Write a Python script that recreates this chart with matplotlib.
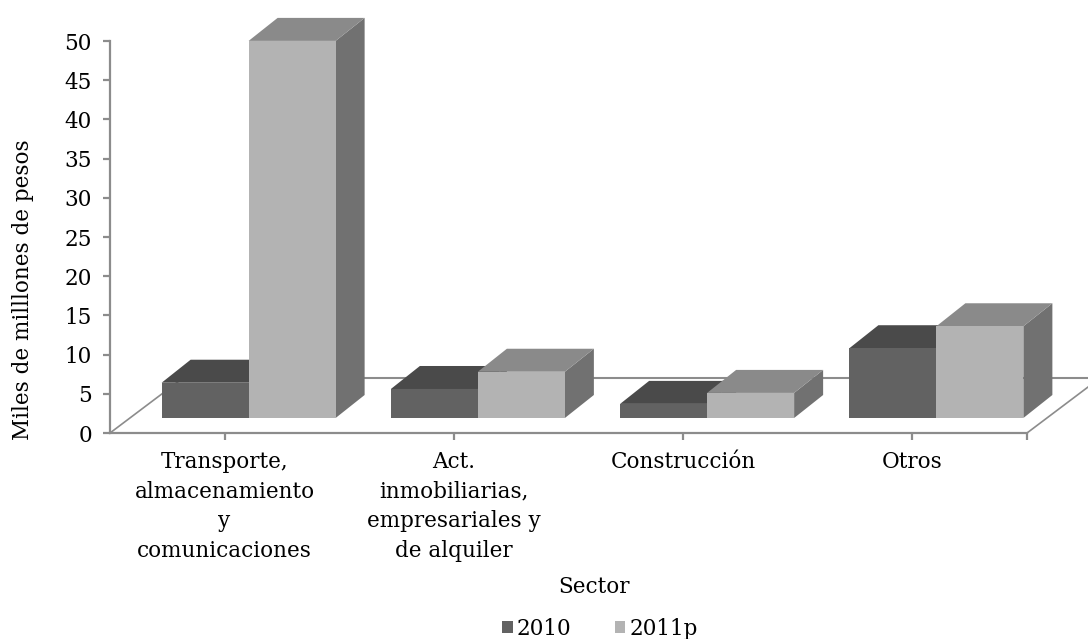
import numpy as np
import matplotlib
matplotlib.use("Agg")
import matplotlib.pyplot as plt
from matplotlib.patches import Polygon, Rectangle

plt.rcParams['font.family'] = ['DejaVu Serif']

sectores = ['Transporte,\nalmacenamiento\ny\ncomunicaciones',
            'Act.\ninmobiliarias,\nempresariales y\nde alquiler',
            'Construcción',
            'Otros']
anios = ['2010', '2011p']
v2010 = [4.5, 3.7, 1.8, 8.9]
v2011 = [48.1, 5.9, 3.2, 11.7]

# colores por cara: frente, arriba, lado
colores = {'2010': ('#626262', '#4a4a4a', '#555555'),
           '2011p': ('#b3b3b3', '#8a8a8a', '#717171')}
gris = '#8c8c8c'
fs = 15.5

W, H, DPI = 10.88, 6.39, 100
fig = plt.figure(figsize=(W, H), dpi=DPI)
# ejes en pixeles del original: x 110..1027, y 41..433
ax = fig.add_axes([110 / 1088, (639 - 433) / 639, 917 / 1088, 392 / 639])
ax.set_xlim(-0.5, 3.5)
ax.set_ylim(0, 50)

# conversion pixel -> datos (escala lineal)
px_x = 917 / 4.0
px_y = 392 / 50.0

# desplazamientos "3D" en pixeles
fx, fy = 24 / px_x, 15 / px_y      # cara frontal respecto al frente del piso
dx, dy = 29 / px_x, 23 / px_y      # profundidad de cada barra
pdx, pdy = 73 / px_x, 55 / px_y    # profundidad del piso
ancho = 87 / px_x

# piso
ax.plot([-0.5, -0.5 + pdx], [0, pdy], color=gris, lw=1.2, clip_on=False, zorder=1)
ax.plot([3.5, 3.5 + pdx], [0, pdy], color=gris, lw=1.2, clip_on=False, zorder=1)
ax.plot([-0.5 + pdx, 3.5 + pdx], [pdy, pdy], color=gris, lw=1.5, clip_on=False, zorder=1)


def caja(x0, h, cols, z):
    x0 = x0 + fx
    x1 = x0 + ancho
    b = fy
    t = fy + h
    frente, arriba, lado = cols
    ax.add_patch(Polygon([(x1, b), (x1 + dx, b + dy), (x1 + dx, t + dy), (x1, t)],
                         closed=True, fc=lado, ec='none', clip_on=False, zorder=z))
    ax.add_patch(Polygon([(x0, t), (x1, t), (x1 + dx, t + dy), (x0 + dx, t + dy)],
                         closed=True, fc=arriba, ec='none', clip_on=False, zorder=z))
    ax.add_patch(Rectangle((x0, b), ancho, h, fc=frente, ec='none',
                           clip_on=False, zorder=z))


x = np.arange(len(sectores))
z = 2
for i in range(len(sectores)):
    caja(x[i] - ancho, v2010[i], colores['2010'], z)
    z += 1
    caja(x[i], v2011[i], colores['2011p'], z)
    z += 1

# ejes
for s in ['top', 'right']:
    ax.spines[s].set_visible(False)
for s in ['left', 'bottom']:
    ax.spines[s].set_color(gris)
    ax.spines[s].set_linewidth(1.6)
ax.set_yticks(np.arange(0, 51, 5))
ax.set_xticks(x, sectores)
ax.set_xticks([3.5], minor=True)
ax.tick_params(axis='y', length=5, width=1.6, color=gris, pad=8, labelsize=fs)
ax.tick_params(axis='x', which='both', length=5, width=1.6, color=gris, pad=8,
               labelsize=fs)
for lab in ax.get_xticklabels():
    lab.set_linespacing(1.45)

fig.text(23 / 1088, 1 - 290 / 639, 'Miles de milllones de pesos', rotation=90,
         ha='center', va='center', fontsize=fs)
fig.text(594 / 1088, 1 - 587 / 639, 'Sector', ha='center', va='center', fontsize=fs)

handles = [Rectangle((0, 0), 1, 1, fc=colores[a][0], ec='none') for a in anios]
fig.legend(handles, anios, loc='center', bbox_to_anchor=(600 / 1088, 1 - 629 / 639),
           ncol=2, frameon=False, fontsize=fs, handlelength=0.5, handleheight=0.5,
           handletextpad=0.2, columnspacing=2.0, borderpad=0)

fig.savefig('out.png', dpi=DPI)
